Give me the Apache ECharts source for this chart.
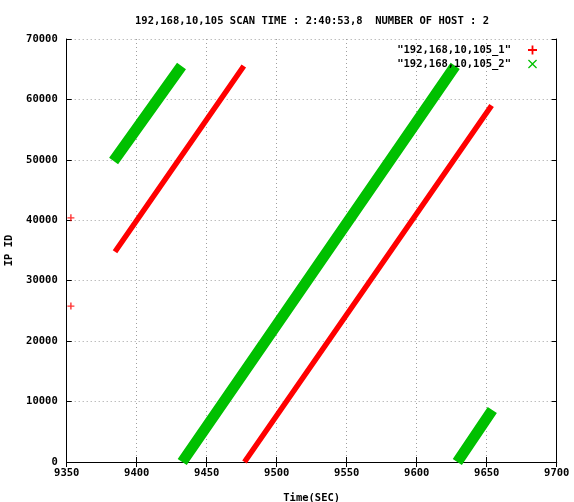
<!DOCTYPE html>
<html>
<head>
<meta charset="utf-8">
<script src="https://cdn.jsdelivr.net/npm/echarts@6/dist/echarts.min.js"></script>
<style>html,body{margin:0;padding:0;background:#fff}#c{width:574px;height:502px}</style>
</head>
<body>
<div id="c"></div>
<script>
// ---- data ----
var titleText = '192,168,10,105 SCAN TIME : 2:40:53,8  NUMBER OF HOST : 2';
var seriesNames = ['192,168,10,105_1', '192,168,10,105_2'];
var xTicks = [9350, 9400, 9450, 9500, 9550, 9600, 9650, 9700];
var yTicks = [0, 10000, 20000, 30000, 40000, 50000, 60000, 70000];
// host 1 (red): isolated samples and two ramps (start/end of each run)
var host1Points = [[9353, 40400], [9353, 25800]];
var host1RunA = [[9384.5, 34800], [9476.5, 65535]];
var host1RunB = [[9477, 0], [9653.5, 59000]];
// host 2 (green): three ramps
var host2RunA = [[9383.5, 49800], [9432, 65535]];
var host2RunB = [[9432.5, 0], [9627.5, 65535]];
var host2RunC = [[9629, 0], [9654, 8600]];

var RED = '#ff0000', GREEN = '#00c000';
var FONT = 'DejaVu Sans Mono';
var FS = 10.5;
var plusPath = 'path://M4,0H6V4H10V6H6V10H4V6H0V4H4Z';
var crossPath = 'path://M1,0L5,4L9,0L10,1L6,5L10,9L9,10L5,6L1,10L0,9L4,5L0,1Z';

function joinRuns(runs) {
  var out = [];
  runs.forEach(function (r, i) {
    if (i > 0) out.push(null);
    r.forEach(function (p) { out.push(p); });
  });
  return out;
}
function plain(v) { return String(v); }

var axisLabelStyle = { fontFamily: FONT, fontWeight: 'bold', fontSize: FS, color: '#000' };
var gridLine = { show: true, lineStyle: { color: '#a0a0a0', type: [1, 3], width: 1 } };

var chart = echarts.init(document.getElementById('c'), null, { renderer: 'canvas' });
chart.setOption({
  animation: false,
  backgroundColor: '#fff',
  title: {
    text: titleText, left: 307, top: 11, textAlign: 'center',
    textStyle: { fontFamily: FONT, fontWeight: 'bold', fontSize: FS, color: '#000' }
  },
  legend: {
    orient: 'vertical', right: 32, top: 39, align: 'right', itemGap: 2,
    itemWidth: 9, itemHeight: 9,
    formatter: function (n) { return '"' + n + '"'; },
    textStyle: { fontFamily: FONT, fontWeight: 'bold', fontSize: FS, lineHeight: 12, color: '#000', padding: [0, 12, 0, 0] },
    data: [
      { name: seriesNames[0], icon: plusPath, itemStyle: { color: RED } },
      { name: seriesNames[1], icon: crossPath, itemStyle: { color: GREEN } }
    ]
  },
  grid: { left: 66.7, right: 17.3, top: 39, bottom: 40, containLabel: false, outerBoundsMode: 'none' },
  xAxis: [{
    type: 'value', min: xTicks[0], max: xTicks[xTicks.length - 1], interval: 50,
    name: 'Time(SEC)', nameLocation: 'middle', nameGap: 31,
    nameTextStyle: axisLabelStyle,
    axisLine: { show: true, lineStyle: { color: '#000', width: 1 } },
    axisTick: { show: true, inside: true, length: 5, lineStyle: { color: '#000' } },
    axisLabel: Object.assign({ margin: 6, formatter: plain }, axisLabelStyle),
    splitLine: gridLine
  }, {
    type: 'value', position: 'top', min: xTicks[0], max: xTicks[xTicks.length - 1], interval: 50,
    axisLine: { show: true, lineStyle: { color: '#000', width: 1 } },
    axisTick: { show: true, inside: true, length: 5, lineStyle: { color: '#000' } },
    axisLabel: { show: false }, splitLine: { show: false }
  }],
  yAxis: [{
    type: 'value', min: yTicks[0], max: yTicks[yTicks.length - 1], interval: 10000,
    name: 'IP ID', nameLocation: 'middle', nameGap: 52, nameRotate: 90,
    nameTextStyle: axisLabelStyle,
    axisLine: { show: true, lineStyle: { color: '#000', width: 1 } },
    axisTick: { show: true, inside: true, length: 5, lineStyle: { color: '#000' } },
    axisLabel: Object.assign({ margin: 9, formatter: plain }, axisLabelStyle),
    splitLine: gridLine
  }, {
    type: 'value', position: 'right', min: yTicks[0], max: yTicks[yTicks.length - 1], interval: 10000,
    axisLine: { show: true, lineStyle: { color: '#000', width: 1 } },
    axisTick: { show: true, inside: true, length: 5, lineStyle: { color: '#000' } },
    axisLabel: { show: false }, splitLine: { show: false }
  }],
  series: [{
    name: seriesNames[0], type: 'line', data: joinRuns([host1RunA, host1RunB]),
    showSymbol: false, connectNulls: false, color: RED,
    lineStyle: { color: RED, width: 5.5, cap: 'butt' }, z: 3
  }, {
    name: seriesNames[0], type: 'scatter', data: host1Points,
    symbol: plusPath, symbolSize: 7, itemStyle: { color: RED }, z: 3
  }, {
    name: seriesNames[1], type: 'line', data: joinRuns([host2RunA, host2RunB, host2RunC]),
    showSymbol: false, connectNulls: false, color: GREEN,
    lineStyle: { color: GREEN, width: 11, cap: 'butt' }, z: 2
  }]
});
</script>
</body>
</html>
